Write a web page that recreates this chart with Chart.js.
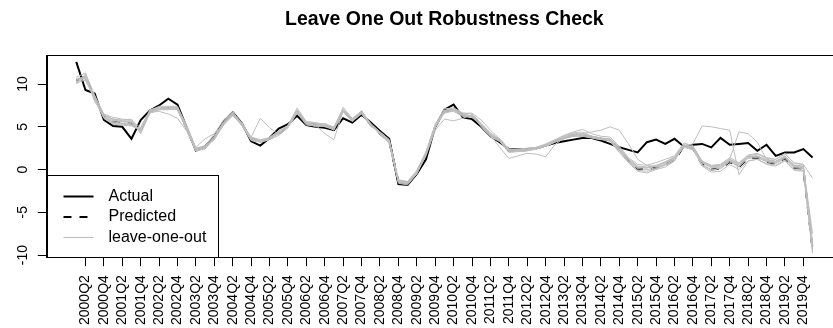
<!DOCTYPE html>
<html>
<head>
<meta charset="utf-8">
<script src="https://cdn.jsdelivr.net/npm/chart.js@4.4.0/dist/chart.umd.min.js"></script>
<style>
	html, body { margin: 0; padding: 0; background: #fff; overflow: hidden; }
	#wrap { width: 887px; height: 328px; }
</style>
</head>
<body>
<div id="wrap"><canvas id="chart" width="887" height="328"></canvas></div>
<script>
// quarters 2000Q1 .. 2020Q1
var quarters = [
	'2000Q1','2000Q2','2000Q3','2000Q4','2001Q1','2001Q2','2001Q3','2001Q4',
	'2002Q1','2002Q2','2002Q3','2002Q4','2003Q1','2003Q2','2003Q3','2003Q4',
	'2004Q1','2004Q2','2004Q3','2004Q4','2005Q1','2005Q2','2005Q3','2005Q4',
	'2006Q1','2006Q2','2006Q3','2006Q4','2007Q1','2007Q2','2007Q3','2007Q4',
	'2008Q1','2008Q2','2008Q3','2008Q4','2009Q1','2009Q2','2009Q3','2009Q4',
	'2010Q1','2010Q2','2010Q3','2010Q4','2011Q1','2011Q2','2011Q3','2011Q4',
	'2012Q1','2012Q2','2012Q3','2012Q4','2013Q1','2013Q2','2013Q3','2013Q4',
	'2014Q1','2014Q2','2014Q3','2014Q4','2015Q1','2015Q2','2015Q3','2015Q4',
	'2016Q1','2016Q2','2016Q3','2016Q4','2017Q1','2017Q2','2017Q3','2017Q4',
	'2018Q1','2018Q2','2018Q3','2018Q4','2019Q1','2019Q2','2019Q3','2019Q4',
	'2020Q1'
];

var tick_labels = [
	'2000Q2','2000Q4','2001Q2','2001Q4','2002Q2','2002Q4','2003Q2','2003Q4',
	'2004Q2','2004Q4','2005Q2','2005Q4','2006Q2','2006Q4','2007Q2','2007Q4',
	'2008Q2','2008Q4','2009Q2','2009Q4','2010Q2','2010Q4','2011Q2','2011Q4',
	'2012Q2','2012Q4','2013Q2','2013Q4','2014Q2','2014Q4','2015Q2','2015Q4',
	'2016Q2','2016Q4','2017Q2','2017Q4','2018Q2','2018Q4','2019Q2','2019Q4'
];

var y_ticks = [-10, -5, 0, 5, 10];

var chart_title = 'Leave One Out Robustness Check';

var actual = [
	12.6, 9.3, 8.9, 5.8, 5.1, 5.0, 3.6, 5.8, 6.9, 7.5,
	8.3, 7.6, 4.9, 2.2, 2.7, 3.8, 5.6, 6.7, 5.4, 3.3,
	2.8, 3.7, 4.8, 5.3, 6.3, 5.2, 5.0, 4.9, 4.6, 6.0,
	5.5, 6.4, 5.5, 4.5, 3.6, -1.7, -1.8, -0.5, 1.2, 5.0,
	7.0, 7.6, 6.1, 5.9, 5.0, 3.9, 3.2, 2.4, 2.4, 2.4,
	2.5, 2.8, 3.1, 3.3, 3.5, 3.7, 3.7, 3.4, 3.0, 2.6,
	2.3, 2.0, 3.2, 3.5, 3.0, 3.6, 2.7, 2.9, 3.0, 2.6,
	3.7, 2.9, 3.0, 3.1, 2.2, 2.9, 1.6, 2.0, 2.0, 2.4,
	1.4
];

var predicted = [
	10.4, 10.9, 8.3, 6.2, 5.6, 5.5, 5.4, 4.6, 6.8, 7.2,
	7.2, 7.2, 4.8, 2.3, 2.6, 3.7, 5.4, 6.5, 5.3, 3.6,
	3.3, 3.6, 4.2, 5.0, 6.8, 5.4, 5.3, 5.2, 4.8, 6.9,
	5.8, 6.7, 5.2, 4.2, 3.3, -1.4, -1.6, -0.4, 1.8, 5.0,
	6.8, 7.0, 6.4, 6.3, 5.2, 4.0, 3.4, 2.2, 2.2, 2.3,
	2.5, 2.8, 3.3, 3.7, 4.0, 4.0, 3.8, 3.6, 3.5, 2.3,
	1.0, 0.1, 0.0, 0.2, 0.6, 1.1, 2.7, 2.5, 0.6, 0.0,
	0.1, 0.9, 0.3, 1.3, 1.4, 0.9, 0.7, 1.3, 0.2, 0.1,
	-9.3
];

// leave-one-out runs
var loo_1 = [
	10.0, 11.2, 8.0, 6.4, 5.8, 5.6, 5.6, 4.4, 6.9, 7.1,
	7.3, 7.3, 4.6, 2.1, 2.5, 3.9, 5.5, 6.8, 5.2, 3.4,
	3.2, 3.5, 4.3, 5.2, 7.2, 5.6, 5.4, 5.0, 4.7, 7.3,
	5.9, 6.9, 5.3, 4.1, 3.1, -1.6, -1.8, -0.5, 1.7, 5.2,
	6.9, 7.2, 6.6, 6.5, 5.0, 3.8, 3.3, 2.0, 2.1, 2.2,
	2.4, 2.9, 3.4, 3.9, 4.3, 4.4, 3.9, 3.7, 3.3, 2.0,
	0.8, -0.2, -0.4, 0.0, 0.3, 1.0, 2.9, 2.7, 0.4, -0.3,
	-0.2, 0.6, 0.0, 1.0, 1.2, 0.6, 0.4, 1.0, -0.1, -0.2,
	-9.8
];
var loo_2 = [
	10.7, 10.6, 8.5, 6.0, 5.4, 5.3, 5.2, 4.8, 6.6, 7.0,
	7.0, 7.1, 5.0, 2.5, 2.8, 3.5, 5.2, 6.3, 5.4, 3.8,
	6.0, 4.9, 4.1, 4.9, 6.6, 5.2, 5.1, 5.4, 4.9, 6.7,
	5.7, 6.5, 5.1, 4.3, 3.4, -1.2, -1.5, -0.3, 1.9, 4.9,
	6.6, 6.9, 6.3, 6.1, 5.3, 4.2, 3.6, 2.4, 2.3, 2.4,
	2.6, 2.7, 3.2, 3.6, 3.9, 3.9, 3.7, 3.5, 3.6, 2.5,
	1.2, 0.3, 0.2, 0.4, 0.9, 1.4, 2.8, 2.4, 0.8, 0.2,
	0.3, 1.1, 0.5, 1.5, 1.6, 1.1, 0.9, 1.5, 0.4, 0.3,
	-9.5
];
var loo_3 = [
	10.2, 10.9, 8.2, 6.3, 5.9, 5.8, 5.9, 4.3, 6.7, 6.8,
	6.5, 6.0, 4.5, 2.2, 2.4, 3.6, 5.3, 6.4, 5.2, 3.5,
	3.4, 3.7, 4.4, 5.1, 6.9, 5.5, 5.0, 5.1, 4.6, 6.8,
	5.6, 6.6, 5.2, 4.4, 3.5, -1.3, -1.4, -0.2, 1.6, 4.6,
	5.9, 5.7, 6.0, 6.4, 5.4, 4.3, 3.5, 2.3, 2.3, 2.4,
	2.5, 2.8, 3.4, 3.8, 4.1, 4.1, 3.9, 3.7, 3.4, 2.2,
	0.9, 0.2, 0.2, 0.4, 0.8, 1.3, 2.6, 2.3, 0.5, -0.1,
	0.2, 1.0, 0.4, 1.4, 1.5, 1.0, 0.8, 1.4, 0.3, 0.2,
	-9.0
];
var loo_4 = [
	10.5, 11.0, 8.4, 6.1, 5.5, 5.4, 5.3, 4.7, 6.8, 7.3,
	7.3, 7.2, 4.9, 2.4, 2.7, 3.8, 5.6, 6.6, 5.3, 3.7,
	3.4, 3.7, 4.3, 5.1, 6.9, 5.4, 5.2, 4.2, 3.5, 6.9,
	5.8, 6.7, 5.2, 4.2, 3.3, -1.4, -1.6, -0.4, 1.8, 5.0,
	6.8, 7.0, 6.4, 6.3, 5.2, 4.0, 3.4, 2.2, 2.2, 2.3,
	2.5, 2.8, 3.3, 3.7, 4.0, 4.2, 4.4, 4.6, 5.0, 4.6,
	3.0, 1.2, 0.5, 0.3, 0.6, 1.2, 2.7, 2.6, 0.8, 0.3,
	0.4, 1.2, 0.6, 1.5, 1.6, 1.1, 0.9, 1.5, 0.5, 0.4,
	-8.5
];
var loo_5 = [
	10.3, 10.7, 8.1, 6.0, 5.3, 5.2, 5.1, 4.6, 6.9, 7.4,
	7.4, 7.4, 4.9, 2.2, 2.5, 3.6, 5.4, 6.6, 5.5, 3.6,
	3.2, 3.5, 4.0, 4.9, 6.7, 5.3, 5.2, 5.1, 4.8, 6.8,
	5.9, 6.8, 5.3, 4.1, 3.2, -1.5, -1.7, -0.5, 1.8, 5.1,
	6.9, 7.1, 6.5, 6.2, 5.1, 3.9, 3.3, 2.1, 2.1, 2.2,
	2.4, 2.7, 3.2, 3.6, 3.9, 3.9, 3.7, 3.5, 3.4, 2.2,
	0.9, -0.1, -0.2, 0.1, 0.5, 1.0, 2.8, 3.0, 5.1, 5.0,
	4.8, 4.6, -0.6, 1.0, 1.2, 0.7, 0.5, 1.1, 0.0, -0.1,
	-9.6
];
var loo_6 = [
	10.6, 10.4, 8.6, 6.5, 6.1, 5.9, 5.8, 4.2, 6.6, 7.0,
	7.1, 7.0, 4.6, 2.6, 3.6, 4.2, 5.3, 6.4, 5.1, 3.4,
	3.3, 3.8, 4.5, 5.1, 6.7, 5.5, 5.4, 5.3, 4.9, 7.0,
	5.9, 6.6, 5.1, 4.3, 3.4, -1.3, -1.5, -0.3, 2.0, 5.2,
	6.7, 6.8, 6.2, 6.2, 5.3, 4.1, 3.5, 2.3, 2.4, 2.5,
	2.6, 2.9, 3.4, 3.8, 4.2, 4.2, 3.9, 3.7, 3.6, 2.6,
	1.3, 0.4, 0.3, 0.5, 0.9, 1.5, 2.9, 2.6, 1.0, 0.4,
	0.6, 1.2, 4.4, 4.2, 3.2, 1.2, 1.0, 1.6, 0.5, 0.4,
	-7.5
];
var loo_7 = [
	10.1, 10.5, 8.3, 6.2, 5.7, 5.6, 5.5, 4.5, 6.7, 7.1,
	7.1, 7.1, 4.7, 2.3, 2.6, 3.7, 5.4, 6.5, 5.3, 3.6,
	3.3, 3.6, 4.2, 5.0, 6.8, 5.4, 5.3, 5.2, 4.8, 6.9,
	5.8, 6.7, 5.2, 4.2, 3.3, -1.4, -1.6, -0.4, 1.8, 5.0,
	6.8, 7.0, 6.4, 6.3, 5.2, 4.0, 2.6, 1.3, 1.6, 1.9,
	1.8, 1.5, 2.9, 3.7, 4.0, 4.0, 3.8, 3.6, 3.5, 2.4,
	1.1, 0.3, 0.2, 0.4, 0.8, 1.3, 2.6, 2.5, 0.9, 0.4,
	0.5, 1.2, 0.7, 1.6, 1.8, 1.3, 1.2, 1.8, 0.8, 0.6,
	-1.0
];
var loo_8 = [
	10.8, 11.3, 8.7, 6.4, 5.9, 5.7, 5.7, 4.9, 7.0, 7.3,
	7.2, 7.3, 5.2, 2.5, 2.7, 4.2, 5.8, 6.7, 5.4, 3.8,
	3.5, 3.7, 4.4, 5.1, 7.0, 5.6, 5.5, 5.3, 5.0, 7.1,
	6.0, 6.8, 5.4, 4.4, 3.5, -1.2, -1.4, -0.1, 2.1, 5.3,
	7.1, 7.2, 6.6, 6.6, 5.8, 4.6, 3.6, 2.4, 2.4, 2.4,
	2.6, 3.0, 3.5, 4.0, 4.4, 4.7, 4.2, 3.9, 3.8, 2.7,
	1.4, 0.6, 0.5, 0.8, 1.2, 1.6, 3.1, 2.8, 1.0, 0.5,
	0.6, 1.4, 0.8, 1.7, 1.9, 1.4, 1.2, 1.9, 0.7, 0.6,
	-8.8
];
var loo_9 = [
	10.4, 10.8, 8.2, 6.1, 5.6, 5.4, 5.4, 4.6, 6.7, 7.2,
	7.1, 7.2, 4.8, 2.3, 2.6, 3.6, 5.3, 6.5, 5.3, 3.6,
	3.3, 3.6, 4.2, 5.0, 6.8, 5.4, 5.3, 5.2, 4.8, 6.9,
	5.8, 6.7, 5.2, 4.2, 3.3, -1.4, -1.6, -0.4, 1.8, 5.0,
	6.8, 7.0, 6.4, 6.3, 5.2, 4.0, 3.4, 2.2, 2.2, 2.3,
	2.5, 2.8, 3.3, 3.7, 4.0, 4.0, 3.8, 3.6, 3.5, 2.3,
	1.0, 0.1, 0.0, 0.2, 0.6, 1.1, 2.7, 2.5, 0.6, 0.0,
	0.1, 0.9, 0.3, 1.3, 1.4, 0.9, 0.7, 1.3, 0.2, 0.1,
	-9.2
];
var loo_series = [loo_1, loo_2, loo_3, loo_4, loo_5, loo_6, loo_7, loo_8, loo_9];

var legend_labels = ['Actual', 'Predicted', 'leave-one-out'];

var font_family = "'Liberation Sans', Arial, sans-serif";
var gray = '#bebebe';

function to_points(values) {
	var pts = [];
	for (var i = 0; i < values.length; i++) {
		pts.push({x: i, y: values[i]});
	}
	return pts;
}

var datasets = [];
for (var k = 0; k < loo_series.length; k++) {
	datasets.push({
		label: 'leave-one-out',
		data: to_points(loo_series[k]),
		borderColor: gray,
		borderWidth: 1,
		order: 0
	});
}
datasets.push({
	label: 'Predicted',
	data: to_points(predicted),
	borderColor: '#000',
	borderWidth: 2,
	borderDash: [8, 8],
	order: 1
});
datasets.push({
	label: 'Actual',
	data: to_points(actual),
	borderColor: '#000',
	borderWidth: 2,
	order: 1
});

// box around the plot region + title centred over it (like R does)
var box_plugin = {
	id: 'box',
	afterDraw: function(chart) {
		var a = chart.chartArea;
		var ctx = chart.ctx;
		ctx.save();
		ctx.strokeStyle = '#000';
		ctx.lineWidth = 1;
		ctx.strokeRect(Math.round(a.left) + 0.5, Math.round(a.top) + 0.5,
			Math.round(a.right - a.left), Math.round(a.bottom - a.top));

		ctx.fillStyle = '#000';
		ctx.font = 'bold 19.5px ' + font_family;
		ctx.textAlign = 'center';
		ctx.textBaseline = 'middle';
		ctx.fillText(chart_title, (a.left + a.right) / 2, 20);
		ctx.restore();
	}
};

// R style legend, bottom left inside the plot
var legend_plugin = {
	id: 'rlegend',
	afterDraw: function(chart) {
		var a = chart.chartArea;
		var ctx = chart.ctx;
		var left = Math.round(a.left) + 0.5;
		var bottom = Math.round(a.bottom) + 0.5;
		var w = 171, h = 82;
		ctx.save();
		ctx.fillStyle = '#fff';
		ctx.fillRect(left, bottom - h, w, h);
		ctx.strokeStyle = '#000';
		ctx.lineWidth = 1;
		ctx.strokeRect(left, bottom - h, w, h);

		var styles = [
			{color: '#000', width: 2, dash: []},
			{color: '#000', width: 2, dash: [8, 8]},
			{color: gray, width: 1, dash: []}
		];
		ctx.font = '16px ' + font_family;
		ctx.textBaseline = 'middle';
		ctx.textAlign = 'left';
		for (var i = 0; i < legend_labels.length; i++) {
			var y = bottom - h + 21 + i * 20.5;
			ctx.beginPath();
			ctx.strokeStyle = styles[i].color;
			ctx.lineWidth = styles[i].width;
			ctx.setLineDash(styles[i].dash);
			ctx.moveTo(left + 16, y);
			ctx.lineTo(left + 46, y);
			ctx.stroke();
			ctx.setLineDash([]);
			ctx.fillStyle = '#000';
			ctx.fillText(legend_labels[i], left + 61, y);
		}
		ctx.restore();
	}
};

Chart.defaults.font.family = font_family;
Chart.defaults.color = '#000';

var chart = new Chart(document.getElementById('chart'), {
	type: 'line',
	data: { datasets: datasets },
	options: {
		responsive: false,
		animation: false,
		devicePixelRatio: 1,
		layout: { padding: { left: 11, right: 45, top: 55, bottom: -6 } },
		elements: {
			point: { radius: 0 },
			line: { tension: 0 }
		},
		plugins: {
			legend: { display: false },
			tooltip: { enabled: false },
			title: { display: false }
		},
		scales: {
			x: {
				type: 'linear',
				min: -3.2,
				max: 83.2,
				afterBuildTicks: function(axis) {
					axis.ticks = tick_labels.map(function(l) { return {value: quarters.indexOf(l)}; });
				},
				ticks: {
					autoSkip: false,
					minRotation: 90,
					maxRotation: 90,
					padding: 9,
					font: { size: 14 },
					callback: function(v) { return quarters[v]; }
				},
				grid: { drawOnChartArea: false, drawTicks: true, tickLength: 9, color: '#000' },
				border: { display: true, color: '#000' }
			},
			y: {
				type: 'linear',
				min: -10.25,
				max: 13.4,
				afterBuildTicks: function(axis) {
					axis.ticks = y_ticks.map(function(v) { return {value: v}; });
				},
				ticks: {
					minRotation: 90,
					maxRotation: 90,
					crossAlign: 'center',
					padding: 5,
					font: { size: 14 }
				},
				grid: { drawOnChartArea: false, drawTicks: true, tickLength: 9, color: '#000' },
				border: { display: true, color: '#000' }
			}
		}
	},
	plugins: [box_plugin, legend_plugin]
});
</script>
</body>
</html>
